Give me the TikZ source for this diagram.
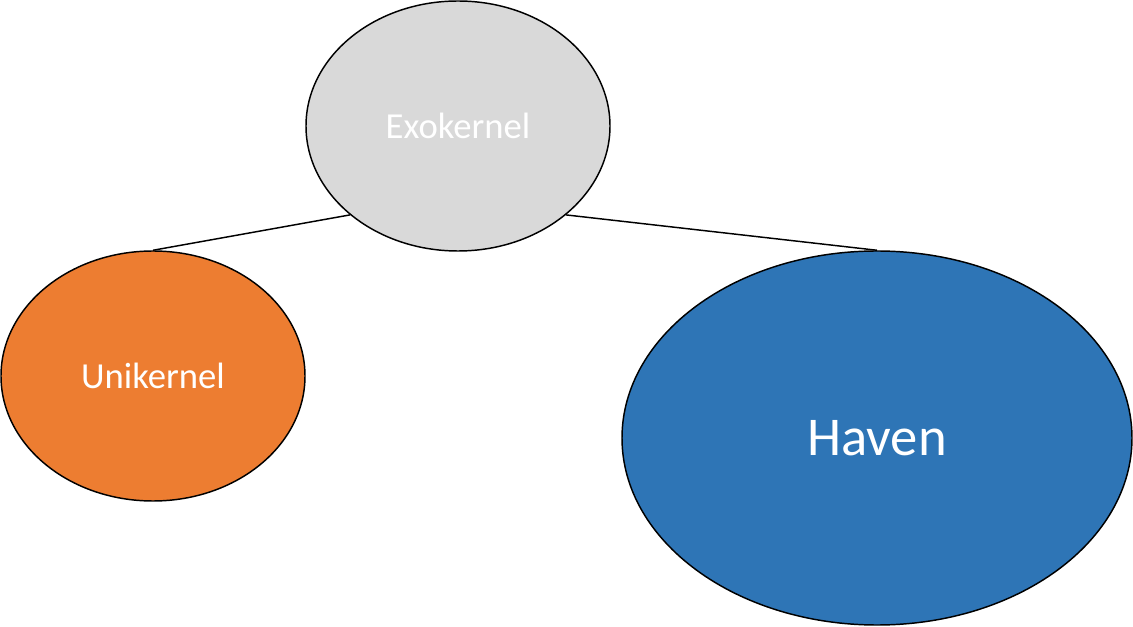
\documentclass[tikz,border=0pt]{standalone}
\usepackage{fontspec}
\setmainfont{Carlito}
\usetikzlibrary{shapes.geometric}
\definecolor{exogray}{RGB}{217, 217, 217}
\definecolor{uniorange}{RGB}{237, 125, 49}
\definecolor{havenblue}{RGB}{46, 117, 182}
\begin{document}
\begin{tikzpicture}[x=0.75pt, y=-0.75pt,
    kernel/.style={ellipse, draw=black, line width=1.1pt, text=white, inner sep=0pt,
        font=\fontsize{27.5}{33}\selectfont}]
            \useasboundingbox (0, 0) rectangle (1133, 627);

            \node[kernel, fill=exogray, minimum width=228pt, minimum height=187.5pt] (exo) at (458, 126) {Exokernel};
            \node[kernel, fill=uniorange, minimum width=228pt, minimum height=187.5pt] (uni) at (153, 376) {Unikernel};
            \node[kernel, fill=havenblue, minimum width=382.5pt, minimum height=280.5pt,
                font=\fontsize{41}{49}\selectfont] (haven) at (877, 438) {Haven};

            \draw[line width=1.1pt] (exo.south west) -- (uni.north);
            \draw[line width=1.1pt] (exo.south east) -- (haven.north);
        \end{tikzpicture}
\end{document}
